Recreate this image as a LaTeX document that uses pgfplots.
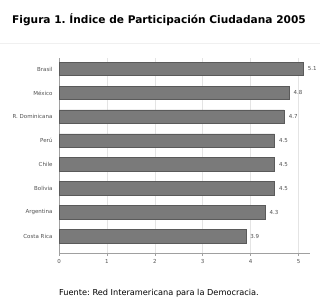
\documentclass[border=0pt]{standalone}
\usepackage{pgfplots}
\pgfplotsset{compat=1.18}
\usepackage{fontspec}
\setmainfont{DejaVu Sans}
\frenchspacing
\definecolor{barfill}{HTML}{7A7A7A}
\definecolor{barline}{HTML}{5A5A5A}
\definecolor{gridc}{HTML}{E4E4E4}
\definecolor{axc}{HTML}{A0A0A0}
\definecolor{txt}{HTML}{505050}
\begin{document}
\begin{tikzpicture}[x=1pt,y=1pt]
\useasboundingbox (-59,-51) rectangle (261,253);
\draw[gray!12, line width=0.8pt] (-59,210) -- (261,210);
\node[font=\fontsize{10.6}{13}\selectfont\bfseries] at (100,233) {Figura 1. Índice de Participación Ciudadana 2005};
\node[font=\fontsize{8.2}{10}\selectfont] at (100,-40) {Fuente: Red Interamericana para la Democracia.};
\begin{axis}[
  at={(0,0)}, anchor=south west,
  scale only axis, width=251pt, height=195pt,
  xbar, bar width=13.5pt,
  xmin=0, xmax=5.24, ymin=-0.71, ymax=7.46,
  ytick={0,...,7},
  yticklabels={Costa Rica,Argentina,Bolivia,Chile,Perú,R. Dominicana,México,Brasil},
  xtick={0,1,2,3,4,5},
  axis x line*=bottom, axis y line*=left,
  axis line style={axc, line width=0.8pt},
  x axis line style={-}, y axis line style={-},
  xmajorgrids, grid style={gridc, line width=0.6pt},
  tick style={axc, line width=0.6pt},
  xtick align=outside, xtick pos=bottom,
  major tick length=3pt,
  ytick style={draw=none},
  tick label style={font=\fontsize{5.5}{6}\selectfont, text=txt},
  /pgf/number format/assume math mode=true,
  nodes near coords,
  nodes near coords style={font=\fontsize{5.5}{6}\selectfont, text=txt, xshift=1pt},
  every node near coord/.append style={/pgf/number format/fixed, /pgf/number format/precision=1},
]
\addplot[fill=barfill, draw=barline, line width=0.6pt] coordinates {
 (3.9,0) (4.3,1) (4.5,2) (4.5,3) (4.5,4) (4.7,5) (4.8,6) (5.1,7)
};
\end{axis}
\end{tikzpicture}
\end{document}
